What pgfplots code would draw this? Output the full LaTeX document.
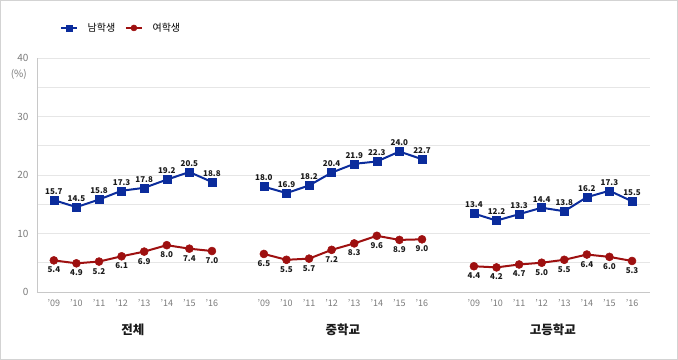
\documentclass[border=0pt]{standalone}
\usepackage{fontspec}
\setmainfont{Noto Sans CJK KR}
\usepackage{pgfplots}
\pgfplotsset{compat=1.18}
\definecolor{mblue}{HTML}{0B2C9C}
\definecolor{mred}{HTML}{9E1010}
\definecolor{gridc}{HTML}{E6E6E6}
\definecolor{axc}{HTML}{C8C8C8}
\definecolor{tickc}{HTML}{7A7A7A}
\definecolor{lab}{HTML}{1A1A1A}
\begin{document}
\begin{tikzpicture}[x=1pt,y=1pt]
\draw[color=axc!80, line width=0.8pt] (0.5,0.5) rectangle (677.5,359.5);
\begin{axis}[
  at={(37pt,68pt)}, anchor=south west,
  scale only axis, width=613pt, height=234pt,
  xmin=-0.75, xmax=26.4, ymin=0, ymax=40,
  clip=false,
  axis line style={draw=none},
  ytick={0,10,20,30,40},
  minor ytick={5,15,25,35},
  ymajorgrids, yminorgrids,
  major grid style={color=gridc, line width=0.6pt},
  minor grid style={color=gridc, line width=0.6pt},
  major tick length=0pt, minor tick length=0pt,
  yticklabel style={color=tickc, font=\fontsize{10}{11}\selectfont, xshift=-5pt},
  xtick={0,1,2,3,4,5,6,7,9.3,10.3,11.3,12.3,13.3,14.3,15.3,16.3,18.6,19.6,20.6,21.6,22.6,23.6,24.6,25.6},
  xticklabels={'09,'10,'11,'12,'13,'14,'15,'16,'09,'10,'11,'12,'13,'14,'15,'16,'09,'10,'11,'12,'13,'14,'15,'16},
  xticklabel style={color=tickc, font=\fontsize{9}{10}\selectfont, yshift=-4pt},
  /pgf/number format/assume math mode=true,
  unbounded coords=jump,
  legend style={at={(axis description cs:0.033,1.128)}, anchor=west, draw=none, fill=none,
    font=\fontsize{10}{11}\selectfont, column sep=9pt,
    nodes={inner sep=1pt}},
  legend columns=2,
  legend image code/.code={\draw[#1, line width=1.3pt] (0pt,0pt) -- (16pt,0pt); \draw[#1, mark repeat=1, mark phase=1, mark size=3pt] plot coordinates {(8pt,0pt)};},
  every node near coord/.append style={font=\bfseries\fontsize{8}{9}\selectfont, color=lab},
  nodes near coords={\pgfmathprintnumber[fixed,fixed zerofill,precision=1]{\pgfplotspointmeta}},
]
\draw[color=axc, line width=0.8pt] (axis cs:-0.75,0) -- (axis cs:26.4,0);
\draw[color=axc, line width=0.8pt] (axis cs:-0.75,0) -- (axis cs:-0.75,40);
\addplot[color=mblue, line width=2pt, mark=square*, mark size=4pt, mark options={solid, line width=0.5pt},
  every node near coord/.append style={anchor=south, yshift=2pt}] coordinates {
  (0,15.7) (1,14.5) (2,15.8) (3,17.3) (4,17.8) (5,19.2) (6,20.5) (7,18.8) (8,nan)
  (9.3,18.0) (10.3,16.9) (11.3,18.2) (12.3,20.4) (13.3,21.9) (14.3,22.3) (15.3,24.0) (16.3,22.7) (17,nan)
  (18.6,13.4) (19.6,12.2) (20.6,13.3) (21.6,14.4) (22.6,13.8) (23.6,16.2) (24.6,17.3) (25.6,15.5)
};
\addlegendentry{남학생}
\addplot[color=mred, line width=2pt, mark=*, mark size=4pt, mark options={solid, line width=0.5pt},
  every node near coord/.append style={anchor=north, yshift=-3pt}] coordinates {
  (0,5.4) (1,4.9) (2,5.2) (3,6.1) (4,6.9) (5,8.0) (6,7.4) (7,7.0) (8,nan)
  (9.3,6.5) (10.3,5.5) (11.3,5.7) (12.3,7.2) (13.3,8.3) (14.3,9.6) (15.3,8.9) (16.3,9.0) (17,nan)
  (18.6,4.4) (19.6,4.2) (20.6,4.7) (21.6,5.0) (22.6,5.5) (23.6,6.4) (24.6,6.0) (25.6,5.3)
};
\addlegendentry{여학생}
\node[color=tickc, font=\fontsize{10}{11}\selectfont] at (axis cs:-1.55,37.2) {(\%)};
\node[color=lab, font=\bfseries\fontsize{12.5}{13}\selectfont] at (axis cs:3.5,-6.5) {전체};
\node[color=lab, font=\bfseries\fontsize{12.5}{13}\selectfont] at (axis cs:12.8,-6.5) {중학교};
\node[color=lab, font=\bfseries\fontsize{12.5}{13}\selectfont] at (axis cs:22.1,-6.5) {고등학교};
\end{axis}
\end{tikzpicture}
\end{document}
